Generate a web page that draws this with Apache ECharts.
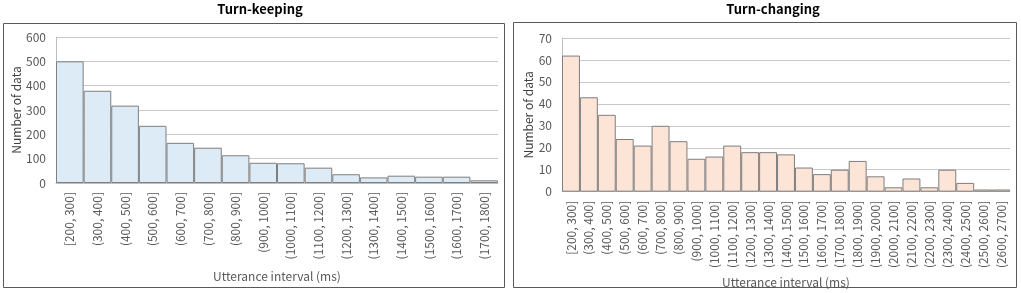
<!DOCTYPE html>
<html>
<head>
<meta charset="utf-8">
<script src="https://cdn.jsdelivr.net/npm/echarts@6/dist/echarts.min.js"></script>
<style>
  html, body { margin: 0; padding: 0; background: #fff; }
  #chart { width: 1021px; height: 293px; }
</style>
</head>
<body>
<div id="chart"></div>
<script>
// turn-keeping histogram
var keepCats = ['[200, 300]', '(300, 400]', '(400, 500]', '(500, 600]', '(600, 700]', '(700, 800]',
  '(800, 900]', '(900, 1000]', '(1000, 1100]', '(1100, 1200]', '(1200, 1300]', '(1300, 1400]',
  '(1400, 1500]', '(1500, 1600]', '(1600, 1700]', '(1700, 1800]'];
var keepCounts = [500, 379, 318, 235, 165, 145, 114, 83, 81, 63, 36, 23, 30, 26, 26, 11];

// turn-changing histogram
var changeCats = ['[200, 300]', '(300, 400]', '(400, 500]', '(500, 600]', '(600, 700]', '(700, 800]',
  '(800, 900]', '(900, 1000]', '(1000, 1100]', '(1100, 1200]', '(1200, 1300]', '(1300, 1400]',
  '(1400, 1500]', '(1500, 1600]', '(1600, 1700]', '(1700, 1800]', '(1800, 1900]', '(1900, 2000]',
  '(2000, 2100]', '(2100, 2200]', '(2200, 2300]', '(2300, 2400]', '(2400, 2500]', '(2500, 2600]',
  '(2600, 2700]'];
var changeCounts = [62, 43, 35, 24, 21, 30, 23, 15, 16, 21, 18, 18, 17, 11, 8, 10, 14, 7, 2, 6, 2, 10, 4, 1, 1];

var font = '"Noto Sans CJK JP", "Noto Sans", sans-serif';
var labelColor = '#595959';

function xAxisFor(cats, idx, gap) {
  return {
    type: 'category', gridIndex: idx, data: cats,
    axisTick: { show: false },
    axisLine: { lineStyle: { color: '#bfbfbf' } },
    axisLabel: { rotate: 90, interval: 0, fontSize: 12, color: labelColor, fontFamily: font, margin: 9 },
    name: 'Utterance interval (ms)', nameLocation: 'middle', nameGap: gap,
    nameTextStyle: { fontSize: 12, color: labelColor, fontFamily: font }
  };
}

function yAxisFor(max, step, idx, gap) {
  return {
    type: 'value', gridIndex: idx, min: 0, max: max, interval: step,
    axisLine: { show: true, lineStyle: { color: '#bfbfbf' } },
    axisTick: { show: false },
    splitLine: { lineStyle: { color: '#c8c8c8' } },
    axisLabel: { fontSize: 12, color: labelColor, fontFamily: font, margin: 10 },
    name: 'Number of data', nameLocation: 'middle', nameGap: gap,
    nameTextStyle: { fontSize: 12, color: '#404040', fontFamily: font }
  };
}

var chart = echarts.init(document.getElementById('chart'));
chart.setOption({
  animation: false,
  title: [
    { text: 'Turn-keeping', left: 255, top: -2, textAlign: 'center',
      textStyle: { fontSize: 13, fontWeight: 'bold', color: '#000', fontFamily: font } },
    { text: 'Turn-changing', left: 768, top: -2, textAlign: 'center',
      textStyle: { fontSize: 13, fontWeight: 'bold', color: '#000', fontFamily: font } }
  ],
  graphic: [
    { type: 'rect', shape: { x: 3.5, y: 23.5, width: 501, height: 264 },
      style: { fill: 'none', stroke: '#595959', lineWidth: 1 }, silent: true },
    { type: 'rect', shape: { x: 513.5, y: 22.5, width: 503, height: 265 },
      style: { fill: 'none', stroke: '#595959', lineWidth: 1 }, silent: true }
  ],
  grid: [
    { left: 56, right: 523, top: 37, bottom: 110 },
    { left: 562, right: 11, top: 38, bottom: 100 }
  ],
  xAxis: [xAxisFor(keepCats, 0, 87), xAxisFor(changeCats, 1, 77)],
  yAxis: [yAxisFor(600, 100, 0, 33), yAxisFor(70, 10, 1, 22)],
  series: [
    { type: 'bar', xAxisIndex: 0, yAxisIndex: 0, data: keepCounts, barCategoryGap: '0%',
      itemStyle: { color: '#ddebf7', borderColor: '#7f7f7f', borderWidth: 1 } },
    { type: 'bar', xAxisIndex: 1, yAxisIndex: 1, data: changeCounts, barCategoryGap: '0%',
      itemStyle: { color: '#fce4d6', borderColor: '#7f7f7f', borderWidth: 1 } }
  ]
});
</script>
</body>
</html>
